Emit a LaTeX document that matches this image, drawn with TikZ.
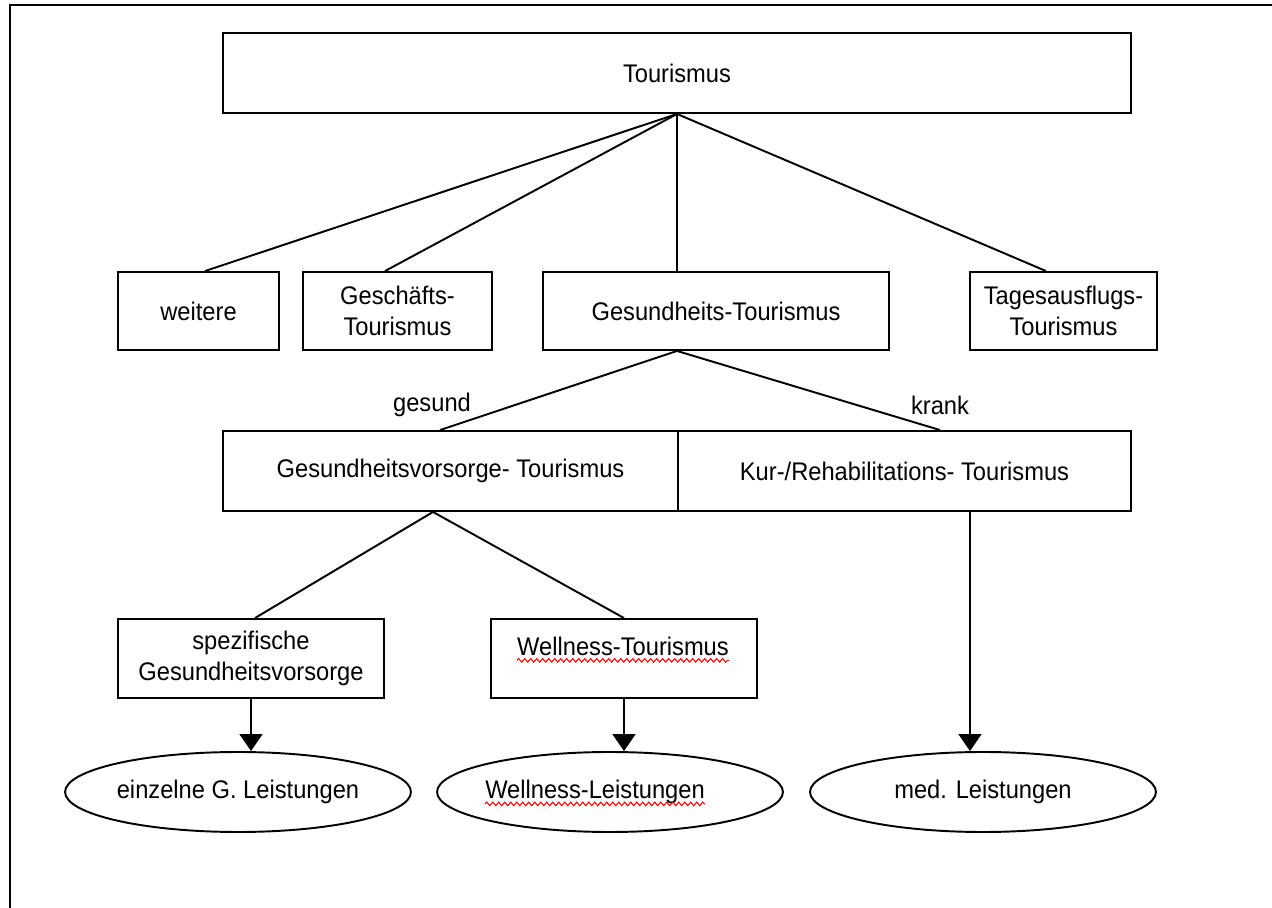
\documentclass[tikz,border=0pt]{standalone}
\usepackage{fontspec}
\setmainfont[FakeStretch=0.93]{Liberation Sans}
\usetikzlibrary{arrows.meta,shapes.geometric,decorations.pathmorphing}
\begin{document}
\begin{tikzpicture}[x=0.02cm,y=-0.02cm,
  every node/.style={font=\fontsize{14.5}{17.6}\selectfont},
  box/.style={draw, line width=1.1pt, rectangle, align=center, inner sep=2pt},
  oval/.style={draw, line width=1.1pt, ellipse, minimum width=6.92cm, minimum height=1.6cm, inner xsep=-12pt, inner ysep=0pt},
  plain/.style={inner sep=0pt},
  link/.style={line width=1.1pt},
  arr/.style={line width=1.1pt, -{Triangle[width=0.46cm,length=0.34cm]}},
  spell/.style={red, line width=0.6pt, decorate, decoration={snake, amplitude=0.035cm, segment length=0.12cm}}
]
\useasboundingbox (0,0) rectangle (1272,908);

% frame (left and top edge)
\draw[line width=1.1pt] (10,908) -- (10,5) -- (1272,5);

% top level
\node[box, minimum width=18.16cm, minimum height=1.6cm] (tour) at (677,73) {Tourismus};

% second level
\node[box, minimum width=3.22cm, minimum height=1.56cm] (weit) at (198.5,311) {weitere};
\node[box, minimum width=3.78cm, minimum height=1.56cm] (gesch) at (397.5,311) {Geschäfts-\\Tourismus};
\node[box, minimum width=6.92cm, minimum height=1.56cm] (gesu) at (716,311) {Gesundheits-Tourismus};
\node[box, minimum width=3.74cm, minimum height=1.56cm] (tages) at (1063.5,311) {Tagesausflugs-\\Tourismus};

% third level
\node[box, minimum width=9.1cm, minimum height=1.6cm] (vors) at (450.5,471) {Gesundheitsvorsorge- Tourismus};
\node[box, minimum width=9.06cm, minimum height=1.6cm] (kur) at (904.5,471) {Kur-/Rehabilitations- Tourismus};

% fourth level
\node[box, minimum width=5.32cm, minimum height=1.58cm] (spez) at (251,658.5) {spezifische\\Gesundheitsvorsorge};
\node[box, minimum width=5.32cm, minimum height=1.58cm] (well) at (624,658.5) {};
\node[plain] (wellT) at (623,646) {Wellness-Tourismus};

% services
\node[oval] (einz) at (238,792) {einzelne G. Leistungen};
\node[oval] (wl) at (610,792) {};
\node[plain] (wlT) at (595,792) {Wellness-Leistungen};
\node[oval] (med) at (983,792) {med. Leistungen};

% branch labels
\node[plain] (lgesund) at (432,405) {gesund};
\node[plain] (lkrank) at (940,405) {krank};

% connectors from Tourismus
\draw[link] (tour.south) -- ([xshift=0.13cm]weit.north);
\draw[link] (tour.south) -- ([xshift=-0.25cm]gesch.north);
\draw[link] (tour.south) -- ([xshift=-0.78cm]gesu.north);
\draw[link] (tour.south) -- ([xshift=-0.35cm]tages.north);

% connectors from Gesundheits-Tourismus
\draw[link] ([xshift=-0.78cm]gesu.south) -- ([xshift=-0.21cm]vors.north);
\draw[link] ([xshift=-0.78cm]gesu.south) -- ([xshift=0.71cm]kur.north);

% connectors from Gesundheitsvorsorge-Tourismus
\draw[link] ([xshift=-0.35cm]vors.south) -- ([xshift=0.08cm]spez.north);
\draw[link] ([xshift=-0.35cm]vors.south) -- (well.north);

% arrows to services
\draw[arr] (spez.south) -- (spez.south |- einz.north);
\draw[arr] (well.south) -- (well.south |- wl.north);
\coordinate (kurout) at ([xshift=1.31cm]kur.south);
\draw[arr] (kurout) -- (kurout |- med.north);

% spell-check marks
\draw[spell] ([yshift=-3pt]wellT.base west) -- ([yshift=-3pt]wellT.base east);
\draw[spell] ([yshift=-3pt]wlT.base west) -- ([yshift=-3pt]wlT.base east);
\end{tikzpicture}
\end{document}
